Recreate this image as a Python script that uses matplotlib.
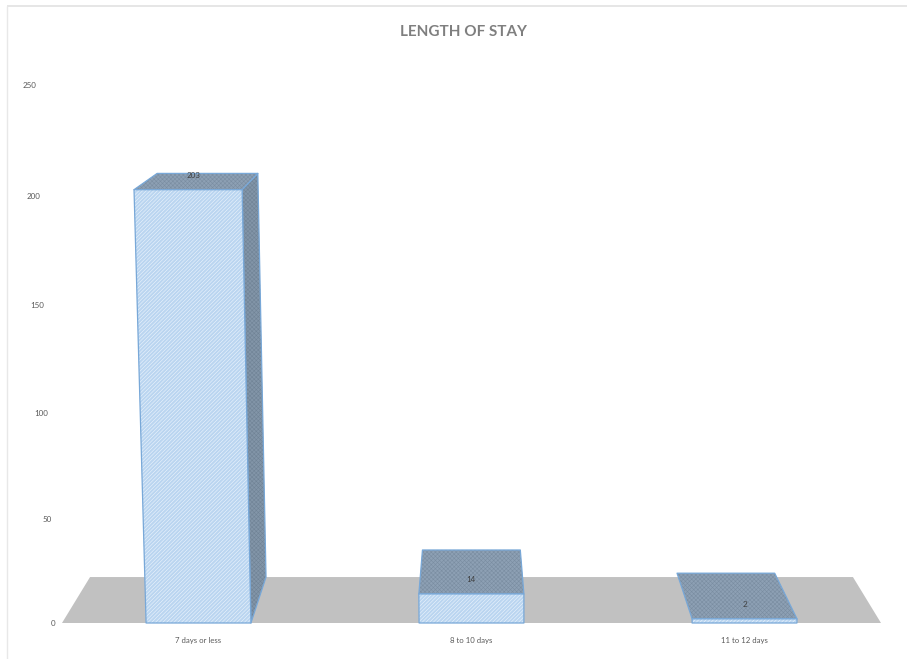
import matplotlib
matplotlib.use("Agg")
import matplotlib.pyplot as plt
from matplotlib.patches import Polygon

categories = ["7 days or less", "8 to 10 days", "11 to 12 days"]
stays = [203, 14, 2]
y_ticks = [0, 50, 100, 150, 200, 250]

W, H = 907, 659
LABEL_FONT = ["Lato", "DejaVu Sans"]

# Perspective constants of the 3-D column view, in figure pixels
FLOOR_Y, CENTER_X = 623.0, 471.5
CAT_STEP, BAR_HALF = 273.0, 0.192
V_SCALE, V_PERSP = 2.07, -1.49e-4
V_VANISH_X = 533.0
DEPTH_SCALE, DEPTH_VANISH_Y = 0.9315, -48.0
FLOOR_EXTENT = 1.5


def project(cat, value, depth):
    """Map (category position, value, depth 0..1) to pixel coordinates."""
    w = 1 + V_PERSP * value
    x = CENTER_X + cat * CAT_STEP
    x = V_VANISH_X + (x - V_VANISH_X) / w
    y = FLOOR_Y - V_SCALE * value / w
    s = 1 + (DEPTH_SCALE - 1) * depth
    return CENTER_X + (x - CENTER_X) * s, DEPTH_VANISH_Y + (y - DEPTH_VANISH_Y) * s


plt.rcParams["hatch.linewidth"] = 0.4
fig = plt.figure(figsize=(W / 100, H / 100), dpi=100)
ax = fig.add_axes([0, 0, 1, 1])
ax.set_xlim(0, W)
ax.set_ylim(H, 0)
ax.axis("off")

# Chart-area border: only the top and left edges show
ax.plot([7, W], [6, 6], color="#E4E4E4", lw=1.3, solid_capstyle="butt")
ax.plot([7, 7], [6, H], color="#E8E8E8", lw=1.0, solid_capstyle="butt")

# Floor
ax.add_patch(Polygon([project(-FLOOR_EXTENT, 0, 0), project(FLOOR_EXTENT, 0, 0),
                      project(FLOOR_EXTENT, 0, 1), project(-FLOOR_EXTENT, 0, 1)],
                     closed=True, fc="#C1C1C1", ec="none", zorder=1))

EDGE = "#78A8D8"


def face(points, fc, hatch_color, hatch, z):
    ax.add_patch(Polygon(points, closed=True, fc=fc, ec=hatch_color, hatch=hatch,
                         lw=0, zorder=z))
    ax.add_patch(Polygon(points, closed=True, fc="none", ec=EDGE, lw=0.9,
                         joinstyle="round", zorder=z + 0.1))


for i, (name, value) in enumerate(zip(categories, stays)):
    c = i - 1
    l, r = c - BAR_HALF, c + BAR_HALF
    # The right side is visible only for columns left of the view centre
    if c < 0:
        face([project(r, 0, 0), project(r, 0, 1), project(r, value, 1), project(r, value, 0)],
             "#8295A8", "#708396", "xxxxxxxx", 3)
    face([project(l, value, 0), project(r, value, 0), project(r, value, 1), project(l, value, 1)],
         "#8DA0B4", "#7A8DA1", "xxxxxxxx", 4)
    face([project(l, 0, 0), project(r, 0, 0), project(r, value, 0), project(l, value, 0)],
         "#BAD5F0", "#EDF5FD", "/////////", 5)

    # Value label sits just behind the front edge of the column top
    tx = project(c, value / 2, 0)[0]
    ty = project(c, value, 0)[1] - 14
    ax.text(tx, ty, str(value), ha="center", va="center",
            fontsize=5.8, color="#404040", family=LABEL_FONT, zorder=8)
    ax.text(CENTER_X + c * CAT_STEP, 640, name, ha="center", va="center",
            fontsize=5.6, color="#595959", family=LABEL_FONT, zorder=8)

# Value axis labels follow the perspective of the front plane
for t in y_ticks:
    x, y = project(-FLOOR_EXTENT, t, 0)
    ax.text(x - 7, y + 0.5, str(t), ha="right", va="center", fontsize=5.8,
            color="#595959", family=LABEL_FONT)

ax.text(463.5, 32.5, "LENGTH OF STAY", ha="center", va="center", fontsize=11,
        fontweight="bold", color="#7F7F7F", family=LABEL_FONT)

fig.savefig("out.png", dpi=100, facecolor="white")
